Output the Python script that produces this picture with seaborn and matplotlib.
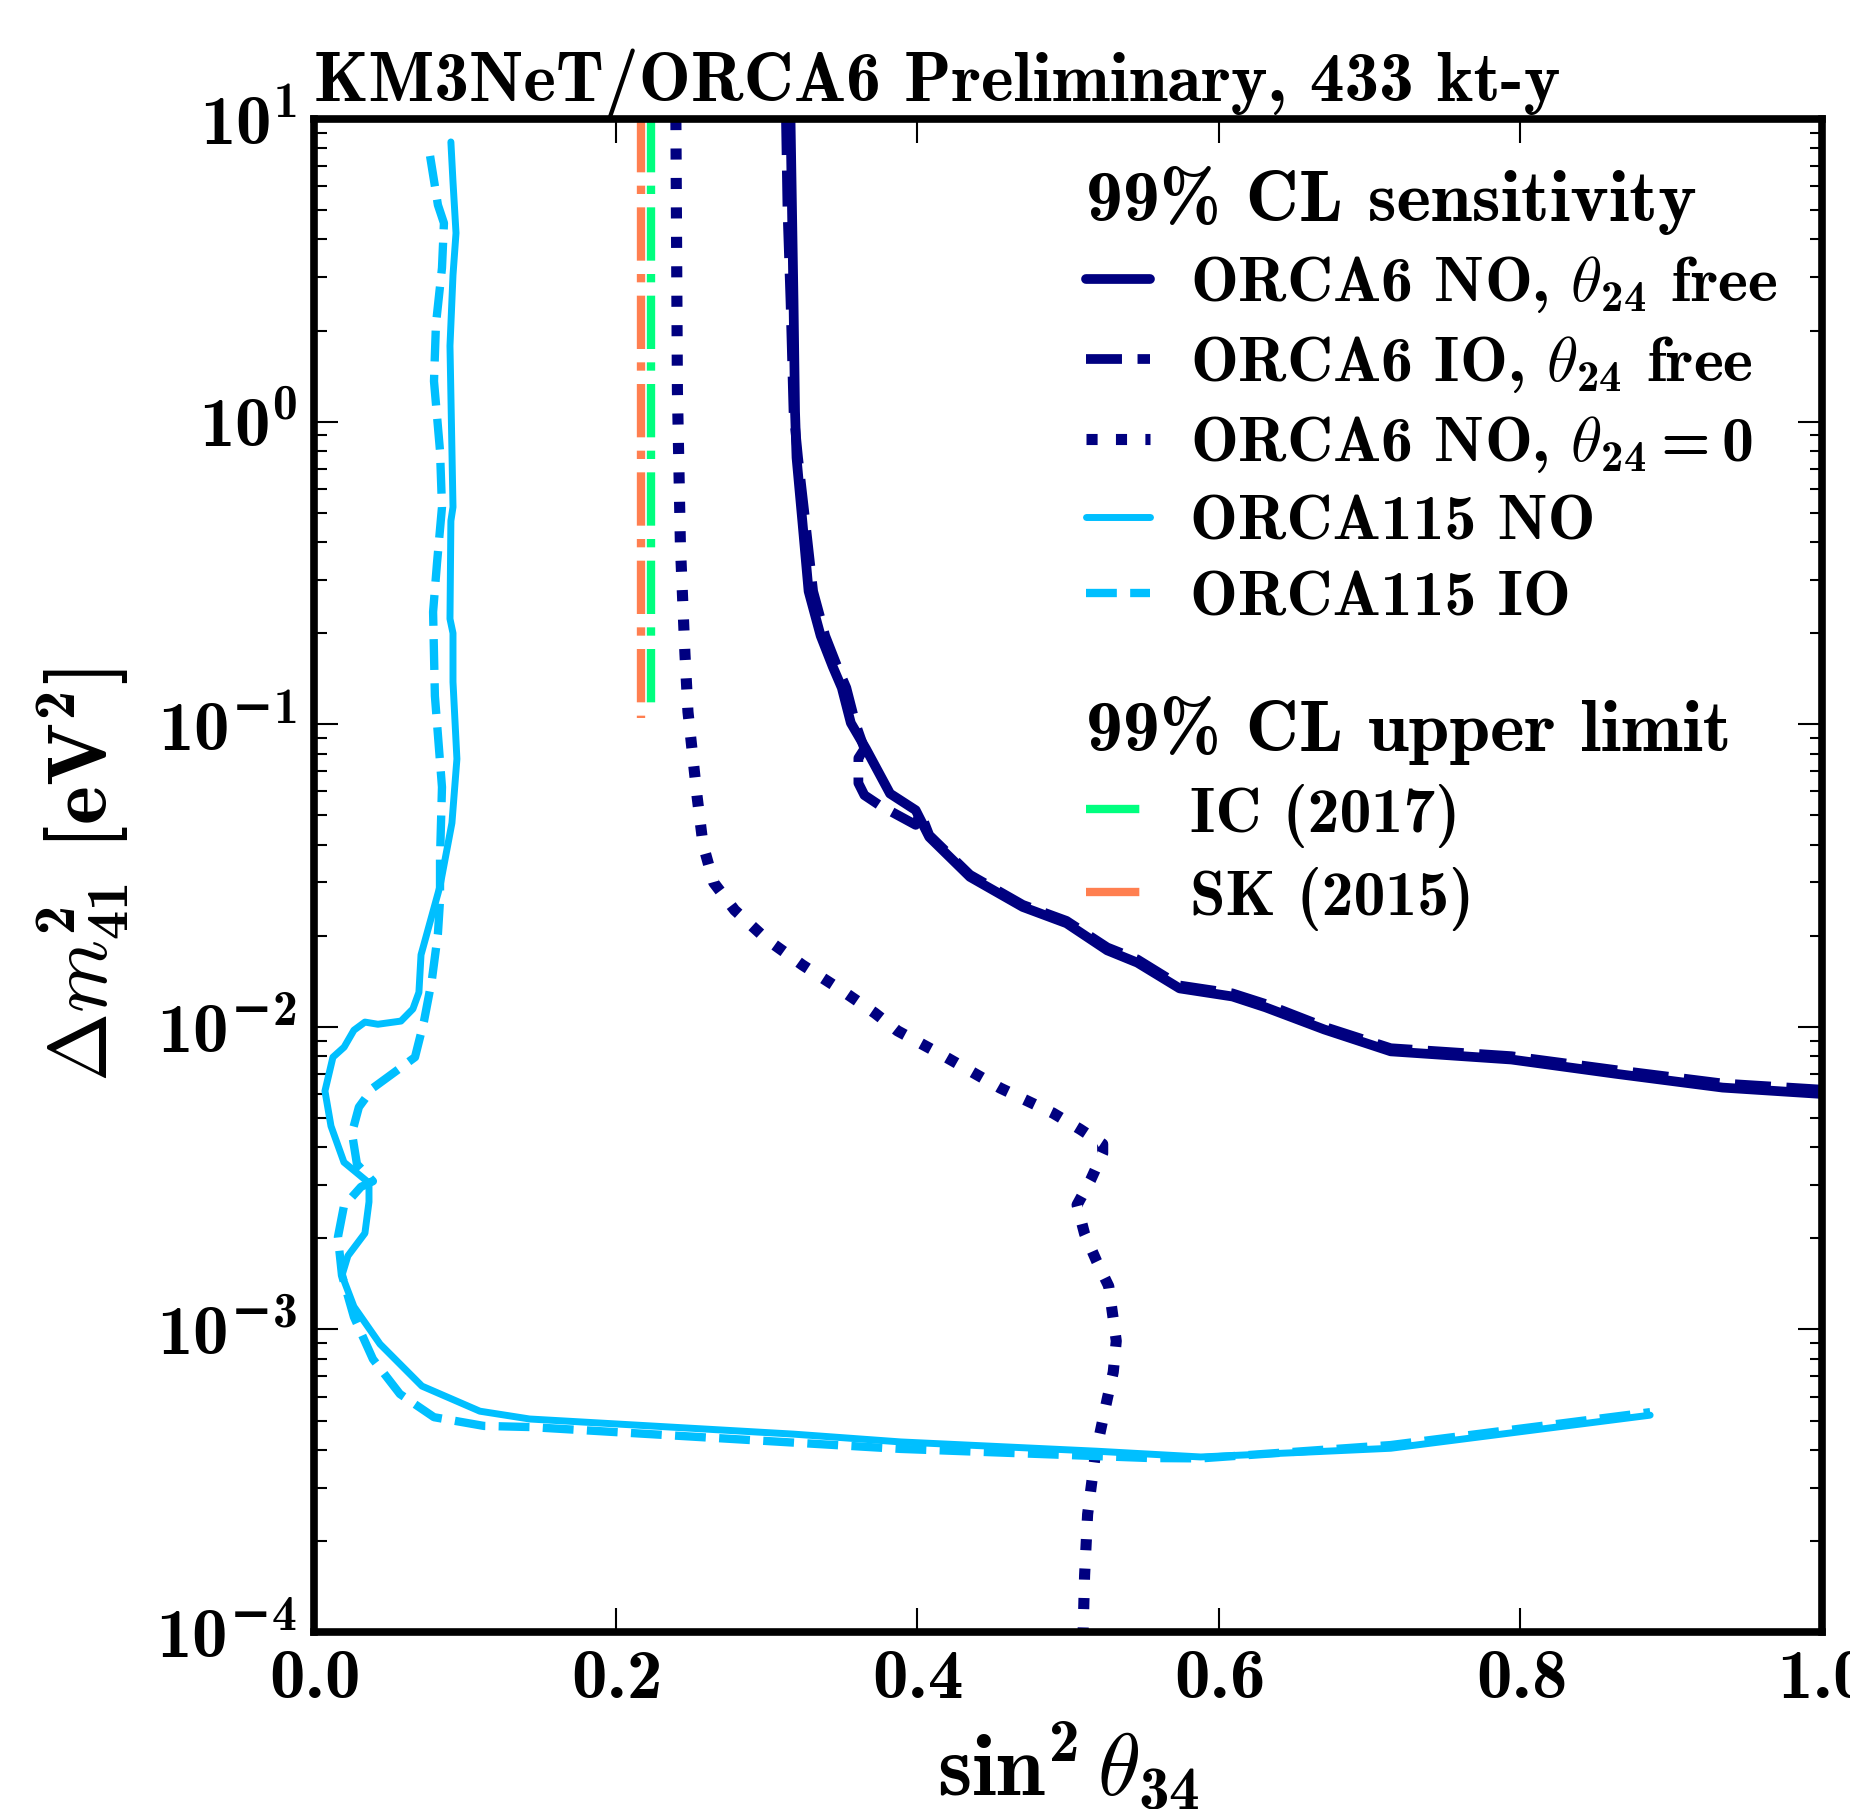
import matplotlib
matplotlib.use("Agg")
import matplotlib.pyplot as plt
from matplotlib.ticker import NullLocator, FuncFormatter
import numpy as np
import pandas as pd
import seaborn as sns

# ORCA6, normal ordering, theta24 free
orca6_no_x = [0.316, 0.317, 0.318, 0.319, 0.320, 0.324, 0.328, 0.336, 0.344, 0.350, 0.356, 0.366,
              0.382, 0.399, 0.408, 0.435, 0.470, 0.499, 0.526, 0.546, 0.574, 0.609, 0.631, 0.670,
              0.714, 0.794, 0.863, 0.934, 1.0]
orca6_no_y = [10, 5.0, 2.5, 1.08, 0.76, 0.46, 0.275, 0.196, 0.155, 0.132, 0.101, 0.083,
              0.059, 0.052, 0.0424, 0.0313, 0.0249, 0.0220, 0.0179, 0.0163, 0.0134, 0.0126, 0.0116, 0.0098,
              0.0083, 0.0078, 0.0070, 0.0063, 0.0060]

# ORCA6, inverted ordering, theta24 free
orca6_io_x = [0.313, 0.314, 0.316, 0.318, 0.321, 0.326, 0.331, 0.339, 0.347, 0.353, 0.359, 0.365,
              0.361, 0.361, 0.365, 0.375, 0.399, 0.402, 0.408, 0.435, 0.470, 0.499, 0.526, 0.546,
              0.574, 0.609, 0.631, 0.670, 0.714, 0.794, 0.863, 0.934, 1.0]
orca6_io_y = [10, 5.0, 2.5, 1.08, 0.76, 0.46, 0.275, 0.196, 0.155, 0.132, 0.101, 0.083,
              0.0773, 0.0639, 0.0583, 0.054, 0.0465, 0.0513, 0.0430, 0.0318, 0.0253, 0.0224, 0.0183, 0.0167,
              0.0137, 0.0129, 0.0119, 0.0100, 0.0085, 0.0080, 0.0072, 0.0065, 0.0062]

# ORCA6, normal ordering, theta24 = 0
orca6_t0_x = [0.240, 0.241, 0.243, 0.246, 0.248, 0.254, 0.258, 0.265, 0.279, 0.300, 0.324, 0.350,
              0.372, 0.387, 0.418, 0.455, 0.490, 0.508, 0.523, 0.523, 0.515, 0.506, 0.511, 0.519,
              0.527, 0.532, 0.530, 0.526, 0.518, 0.513, 0.511, 0.510]
orca6_t0_y = [10, 1.27, 0.388, 0.171, 0.110, 0.058, 0.040, 0.030, 0.0243, 0.0195, 0.0160, 0.0132,
              0.0111, 0.0097, 0.0080, 0.00628, 0.00519, 0.00459, 0.0041, 0.00382, 0.00312, 0.00258, 0.00207, 0.00168,
              0.00139, 0.000916, 0.000723, 0.000589, 0.000382, 0.000245, 0.000154, 0.0001]

# ORCA115 sensitivity
orca115_no_x = [0.0908, 0.0922, 0.0942, 0.0922, 0.0902, 0.0922, 0.0908, 0.0902, 0.0922, 0.0922, 0.0948,
                0.0915, 0.0836, 0.071, 0.0696, 0.0656, 0.0577, 0.0424, 0.0338, 0.0265, 0.020, 0.0126,
                0.0073, 0.0113, 0.0199, 0.0365, 0.0365, 0.0338, 0.0225, 0.0186, 0.0265, 0.0438, 0.0716,
                0.110, 0.143, 0.318, 0.389, 0.519, 0.588, 0.714, 0.886]
orca115_no_y = [8.4, 6.2, 4.2, 3.05, 1.78, 0.522, 0.470, 0.223, 0.200, 0.138, 0.0768,
                0.0472, 0.0292, 0.0173, 0.0130, 0.01146, 0.01045, 0.0102, 0.01037, 0.00975, 0.00857, 0.00794,
                0.00614, 0.0047, 0.00357, 0.00305, 0.00264, 0.00208, 0.00175, 0.00151, 0.00119, 0.000895, 0.00065,
                0.000537, 0.000506, 0.000451, 0.000425, 0.000396, 0.000379, 0.000405, 0.000521]

orca115_io_x = [0.077, 0.0822, 0.0862, 0.0849, 0.0809, 0.0796, 0.0836, 0.0849, 0.0816, 0.079, 0.0802,
                0.0849, 0.0836, 0.0836, 0.0822, 0.0782, 0.0729, 0.067, 0.0517, 0.0391, 0.0298, 0.0252,
                0.0285, 0.0391, 0.0312, 0.0199, 0.0159, 0.0186, 0.0265, 0.0391, 0.057, 0.0796, 0.1127,
                0.143, 0.389, 0.554, 0.588, 0.714, 0.886]
orca115_io_y = [7.55, 5.2, 4.53, 3.22, 2.1, 1.36, 0.80, 0.522, 0.341, 0.235, 0.124,
                0.062, 0.0361, 0.0262, 0.0203, 0.0143, 0.0104, 0.00794, 0.00698, 0.00628, 0.00543, 0.00446,
                0.00352, 0.00309, 0.00296, 0.00256, 0.00202, 0.00151, 0.0011, 0.000798, 0.000612, 0.000513, 0.00048,
                0.000476, 0.000403, 0.000376, 0.000375, 0.000415, 0.000533]

# upper limits
ic_x = [0.2235, 0.2235]
ic_y = [10, 0.112]
sk_x = [0.217, 0.217]
sk_y = [10, 0.105]

x_ticks = [0.0, 0.2, 0.4, 0.6, 0.8, 1.0]

sns.set_theme(style="ticks")
plt.rcParams.update({
    "font.family": "cmb10",
    "mathtext.fontset": "custom",
    "mathtext.rm": "cmb10",
    "mathtext.it": "cmmi10",
    "mathtext.bf": "cmb10",
    "mathtext.sf": "DejaVu Serif:bold",
    "axes.formatter.use_mathtext": True,
    "text.color": "black",
    "axes.labelcolor": "black",
    "xtick.color": "black",
    "ytick.color": "black",
    "xtick.labelcolor": "black",
    "ytick.labelcolor": "black",
})

NAVY = "#000080"
SKY = "#00bfff"
GREEN = "#00ff7f"
CORAL = "#ff7f50"

fig, ax = plt.subplots(figsize=(18.5, 18.09), dpi=100)
fig.subplots_adjust(left=0.1697, right=0.9849, bottom=0.0978, top=0.9342)
ax.set_yscale("log")


def draw(x, y, color, ls, lw):
    df = pd.DataFrame({"x": x, "y": y})
    sns.lineplot(data=df, x="x", y="y", sort=False, estimator=None, color=color,
                 linestyle=ls, linewidth=lw, ax=ax, legend=False)
    return ax.lines[-1]


def log_label(v, pos):
    e = int(round(np.log10(v)))
    if e < 0:
        return r"$\mathbf{10}^{\mathsf{-}\mathbf{%d}}$" % (-e)
    return r"$\mathbf{10}^{\mathbf{%d}}$" % e


h_sk = draw(sk_x, sk_y, CORAL, "-.", 6)
h_ic = draw(ic_x, ic_y, GREEN, "-.", 6)
h_t0 = draw(orca6_t0_x, orca6_t0_y, NAVY, ":", 8)
h_no = draw(orca6_no_x, orca6_no_y, NAVY, "-", 7)
h_io = draw(orca6_io_x, orca6_io_y, NAVY, "--", 7)
h115_no = draw(orca115_no_x, orca115_no_y, SKY, "-", 5)
h115_io = draw(orca115_io_x, orca115_io_y, SKY, "--", 6)

ax.set_xlim(0, 1)
ax.set_ylim(1e-4, 10)
ax.set_xticks(x_ticks)
ax.xaxis.set_minor_locator(NullLocator())
ax.yaxis.set_major_formatter(FuncFormatter(log_label))

ax.tick_params(which="both", direction="in", top=True, right=True, color="black")
ax.tick_params(which="major", length=17, width=1.5, labelsize=51, pad=12)
ax.tick_params(which="minor", length=9, width=1.5)
for sp in ax.spines.values():
    sp.set_linewidth(5.5)
    sp.set_color("black")

ax.set_xlabel(r"$\sin^2\theta_{34}$", fontsize=63, labelpad=6)
ax.set_ylabel(r"$\Delta m^2_{41}$ [eV$^2$]", fontsize=60, labelpad=18)
ax.set_title("KM3NeT/ORCA6 Preliminary, 433 kt-y", loc="left", fontsize=50, pad=8)

leg_kw = dict(title_fontsize=53, fontsize=46, loc="upper left", frameon=False,
              borderpad=0, borderaxespad=0, handlelength=1.0, handletextpad=0.63,
              labelspacing=0.3, alignment="left")
leg1 = ax.legend([h_no, h_io, h_t0, h115_no, h115_io],
                 [r"ORCA6 NO, $\theta_{24}$ free", r"ORCA6 IO, $\theta_{24}$ free",
                  r"ORCA6 NO, $\theta_{24} = 0$", "ORCA115 NO", "ORCA115 IO"],
                 title="99% CL sensitivity", bbox_to_anchor=(0.512, 0.969), **leg_kw)
ax.add_artist(leg1)
ax.legend([h_ic, h_sk], ["IC (2017)", "SK (2015)"],
          title="99% CL upper limit", bbox_to_anchor=(0.512, 0.619), **leg_kw)

fig.savefig("out.png", dpi=100)
